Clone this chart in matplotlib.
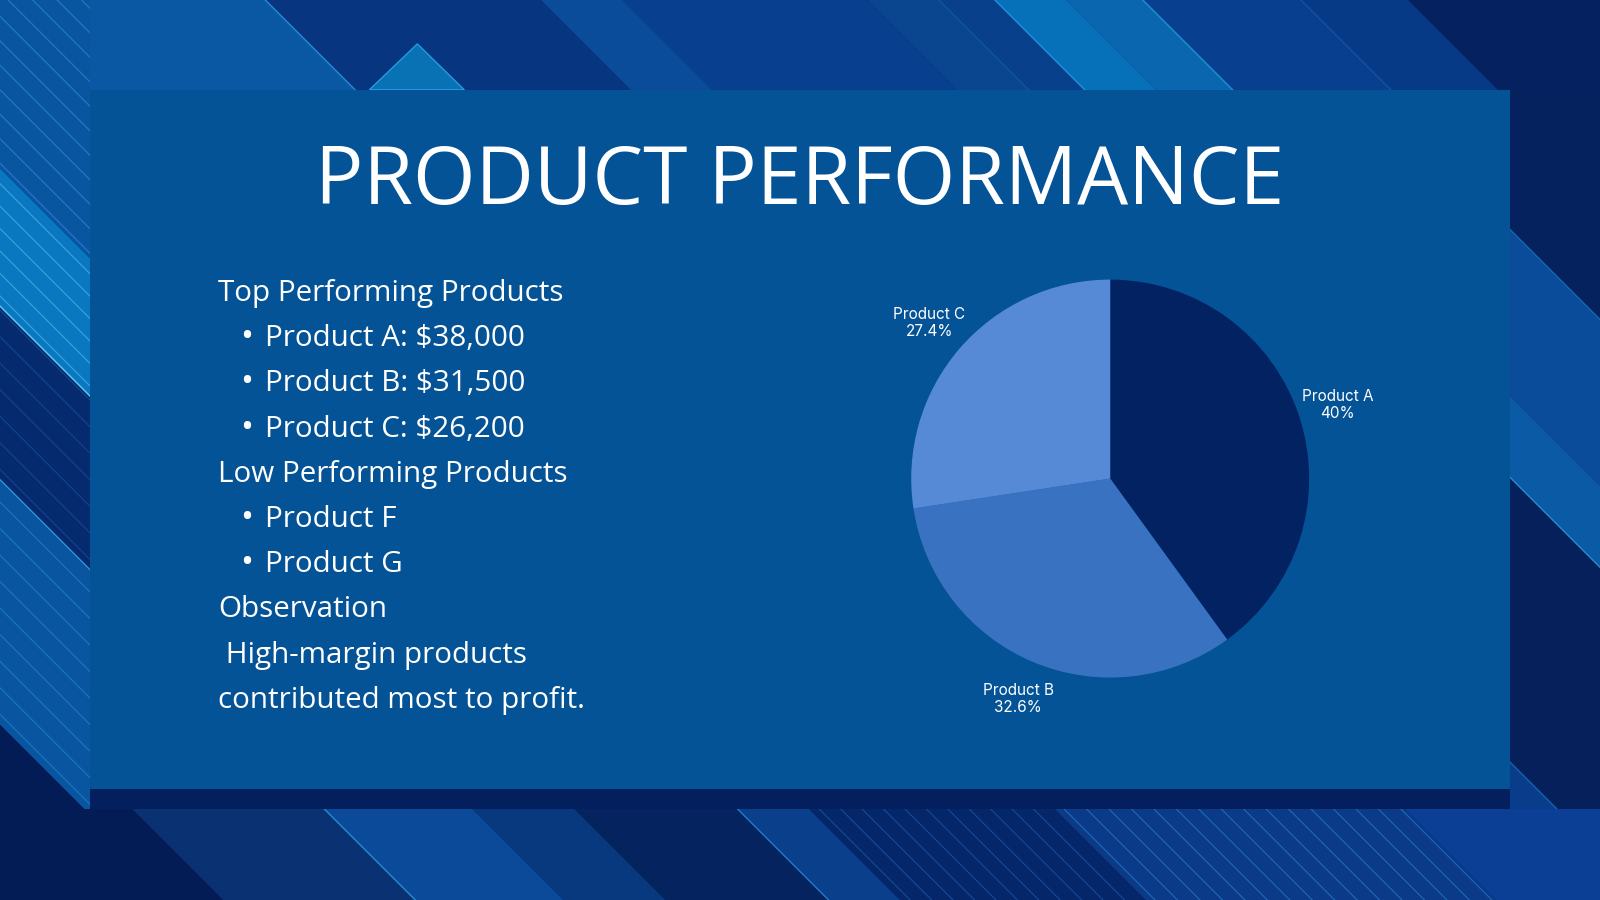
import matplotlib.pyplot as plt
from matplotlib.patches import Polygon, Rectangle

# chart data
products = ['Product A', 'Product B', 'Product C']
shares = [40, 32.6, 27.4]
share_labels = ['40%', '32.6%', '27.4%']
slice_colors = ['#022262', '#3A72C2', '#568AD6']

title = 'PRODUCT PERFORMANCE'
text_lines = [
    ('Top Performing Products', False),
    ('Product A: $38,000', True),
    ('Product B: $31,500', True),
    ('Product C: $26,200', True),
    ('Low Performing Products', False),
    ('Product F', True),
    ('Product G', True),
    ('Observation', False),
    (' High-margin products', False),
    ('contributed most to profit.', False),
]

W, H = 1568, 882   # reference pixel grid

fig = plt.figure(figsize=(16, 9), dpi=100)
fig.patch.set_facecolor('#06276A')

# background layer in reference pixel coordinates
bg = fig.add_axes([0, 0, 1, 1])
bg.set_xlim(0, W)
bg.set_ylim(H, 0)
bg.axis('off')

regions = {
    'top': (88, 0, W, 88),
    'left': (0, 0, 88, 793),
    'right': (1480, 88, W, 793),
    'bottom': (0, 793, W, H),
}


def clip_to(artist, region):
    x0, y0, x1, y1 = regions[region]
    r = Rectangle((x0, y0), x1 - x0, y1 - y0, transform=bg.transData)
    artist.set_clip_path(r)


def band(region, c1, c2, color):
    # diagonal band between the lines x - y = c1 and x - y = c2
    pts = [(c1 - 200, -200), (c1 + 1200, 1200), (c2 + 1200, 1200), (c2 - 200, -200)]
    p = Polygon(pts, closed=True, facecolor=color, edgecolor='none', zorder=1)
    bg.add_patch(p)
    clip_to(p, region)


def line(region, c, color='#2E9AE0', lw=0.8, alpha=0.7):
    ln, = bg.plot([c - 200, c + 1200], [-200, 1200], color=color, lw=lw,
                  alpha=alpha, zorder=2)
    clip_to(ln, region)


# top strip
top_bands = [(0, 260, '#0A58A4'), (260, 530, '#073580'), (530, 610, '#0A4C9A'),
             (610, 850, '#083F8E'), (850, 920, '#0A4590'), (920, 975, '#08408C'),
             (975, 1045, '#0670B8'), (1045, 1120, '#0A66AE'), (1120, 1275, '#083F8E'),
             (1275, 1380, '#073A86'), (1380, 2000, '#05215F')]
for c1, c2, col in top_bands:
    band('top', c1, c2, col)
for c in [260, 975, 1120]:
    line('top', c, '#2AA0E6', lw=1.0, alpha=0.8)
line('top', 920, '#1E6CB8', lw=0.8, alpha=0.6)
line('top', 1275, '#1E6CB8', lw=0.8, alpha=0.6)

# triangle peeking above the panel
tri = Polygon([(362, 88), (409, 43), (455, 88)], closed=True,
              facecolor='#0872B5', edgecolor='#2AA0E6', lw=0.9, zorder=3)
bg.add_patch(tri)

# left strip
left_bands = [(-1000, -710, '#041C55'), (-710, -470, '#0A55A0'), (-470, -300, '#052A6E'),
              (-300, -165, '#0A78C0'), (-165, 200, '#0A55A0')]
for c1, c2, col in left_bands:
    band('left', c1, c2, col)
for c in range(-160, 90, 24):
    line('left', c, '#2E9AE0', lw=0.8, alpha=0.6)
for c in range(-290, -165, 22):
    line('left', c, '#5CC0F0', lw=0.8, alpha=0.6)
for c in range(-460, -300, 26):
    line('left', c, '#1A5AA8', lw=0.8, alpha=0.6)
for c in range(-700, -470, 26):
    line('left', c, '#2E9AE0', lw=0.8, alpha=0.5)
line('left', -300, '#5CC8F4', lw=1.2, alpha=0.9)
line('left', -470, '#3AA8E8', lw=1.0, alpha=0.8)

# right strip
right_bands = [(0, 733, '#0A3C8C'), (733, 1012, '#05205A'), (1012, 1092, '#0A5AA6'),
               (1092, 1255, '#0A4C9A'), (1255, 2000, '#05225F')]
for c1, c2, col in right_bands:
    band('right', c1, c2, col)
line('right', 1012, '#2AA0E6', lw=1.0, alpha=0.8)
line('right', 1255, '#1E80C8', lw=0.9, alpha=0.7)
line('right', 733, '#1E80C8', lw=0.9, alpha=0.7)

# bottom strip
bottom_bands = [(-1000, -663, '#041C56'), (-663, -475, '#0A3272'), (-475, -330, '#0A4A98'),
                (-330, -230, '#08397F'), (-230, -70, '#05235F'), (-70, 0, '#0A3F8C'),
                (0, 241, '#06266A'), (241, 584, '#0A3A88'), (584, 2000, '#0A3F95')]
for c1, c2, col in bottom_bands:
    band('bottom', c1, c2, col)
line('bottom', -475, '#2AA0E6', lw=1.0, alpha=0.8)
line('bottom', -70, '#2AA0E6', lw=1.0, alpha=0.7)
for c in range(10, 241, 21):
    line('bottom', c, '#1A5AA8', lw=0.8, alpha=0.7)
for c in range(250, 584, 22):
    line('bottom', c, '#2E8AD8', lw=0.8, alpha=0.6)

# content panel and its bottom strip
bg.add_patch(Rectangle((88, 88), 1392, 685, facecolor='#045396', edgecolor='none', zorder=5))
bg.add_patch(Rectangle((88, 773), 1392, 20, facecolor='#031F5E', edgecolor='none', zorder=5))

# title
bg.text(784, 179, title, ha='center', va='center', color='white',
        fontsize=58, family='Open Sans', zorder=6)

# left text block
base_y = 295
step = 44.3
for i, (txt, bullet) in enumerate(text_lines):
    y = base_y + i * step
    if bullet:
        bg.text(242, y + 1, '\u2022', ha='center', va='baseline', color='white',
                fontsize=25, family='Open Sans', zorder=6)
        bg.text(260, y, txt, ha='left', va='baseline', color='white',
                fontsize=21.3, family='Open Sans', zorder=6)
    else:
        bg.text(214, y, txt, ha='left', va='baseline', color='white',
                fontsize=21.3, family='Open Sans', zorder=6)

# pie chart
cx, cy, r = 1088, 469, 195
fw, fh = 1600, 900
aw = 2 * r * (fw / W) / fw
ah = 2 * r * (fw / W) / fh
ax = fig.add_axes([cx / W - aw / 2, 1 - cy / H - ah / 2, aw, ah])
labels = [f'{p}\n{s}' for p, s in zip(products, share_labels)]
wedges, texts = ax.pie(shares, colors=slice_colors, startangle=90, counterclock=False,
                       labels=labels, labeldistance=1.2,
                       textprops=dict(color='white', fontsize=11, family='Inter',
                                      va='center', linespacing=1.15))
for t in texts:
    t.set_clip_on(False)
    t.set_horizontalalignment('center')
ax.set_xlim(-1, 1)
ax.set_ylim(-1, 1)
ax.set_aspect('equal')
ax.axis('off')
ax.set_zorder(10)

fig.savefig('out.png', dpi=100, facecolor=fig.get_facecolor())
